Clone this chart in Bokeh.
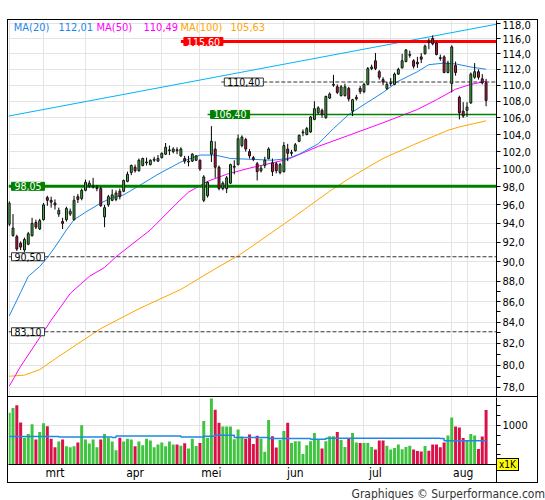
import numpy as np
from bokeh.plotting import figure
from bokeh.models import (Range1d, FixedTicker, CustomJSTickFormatter, Label, Grid, Div, Spacer)
from bokeh.layouts import column, row
from bokeh.embed import file_html
from bokeh.resources import INLINE

FONT = "DejaVu Sans Condensed"

# ---------------- data ----------------
opens = [93.9, 92.7, 92.6, 91.9, 91.2, 91.8, 92.7, 94.1, 93.4, 94.4,
         96.8, 96.5, 96.2, 95.0, 94.2, 94.4, 95.0, 94.4, 96.9, 96.7,
         97.6, 98.1, 98.0, 97.8, 97.8, 94.7, 96.0, 96.5, 96.6, 97.5,
         97.5, 98.6, 99.6, 100.2, 99.8, 100.4, 100.7, 100.5, 101.0, 100.9,
         101.3, 101.7, 102.1, 102.0, 102.2, 101.5, 101.2, 100.8, 100.9, 101.0,
         101.0, 96.5, 97.0, 101.7, 102.3, 100.2, 97.8, 97.8, 98.4, 100.2,
         100.5, 102.7, 103.4, 102.0, 101.3, 100.6, 99.8, 100.4, 101.2, 100.7,
         100.6, 99.6, 99.7, 102.3, 101.8, 102.1, 103.2, 104.2, 104.0, 104.3,
         105.8, 106.6, 106.9, 106.0, 108.4, 110.0, 109.8, 108.7, 108.7, 109.6,
         106.8, 108.3, 109.6, 109.2, 110.1, 112.1, 113.1, 111.7, 110.7, 109.6,
         110.2, 110.1, 111.4, 112.2, 113.0, 113.8, 113.1, 112.9, 113.6, 114.0,
         115.6, 116.0, 115.4, 113.5, 113.6, 111.6, 110.2, 112.5, 108.5, 106.8,
         106.9, 107.8, 111.0, 111.7, 110.8, 110.3]
highs = [96.4, 95.0, 92.8, 92.1, 92.5, 93.1, 94.6, 94.4, 94.5, 96.2,
         97.0, 96.9, 96.6, 95.7, 94.6, 95.8, 95.6, 97.0, 97.2, 97.8,
         98.8, 98.7, 99.0, 98.2, 98.0, 96.0, 97.1, 97.7, 97.6, 97.8,
         98.8, 99.7, 100.5, 100.5, 101.2, 101.3, 101.3, 101.1, 101.4, 101.6,
         101.9, 103.0, 102.7, 102.5, 102.5, 102.5, 101.5, 101.5, 101.8, 101.6,
         101.1, 99.3, 98.6, 105.0, 103.2, 100.4, 98.6, 99.2, 100.6, 101.0,
         104.0, 103.9, 103.6, 102.3, 101.5, 100.8, 100.4, 101.4, 102.5, 101.2,
         100.8, 100.7, 103.1, 102.9, 102.2, 103.0, 104.0, 104.6, 104.9, 106.2,
         108.0, 107.4, 107.1, 108.7, 109.1, 111.3, 110.1, 110.0, 110.2, 109.8,
         108.3, 108.8, 109.9, 110.3, 112.3, 112.6, 114.1, 111.9, 111.0, 110.4,
         110.9, 111.6, 112.2, 114.0, 114.6, 114.4, 113.3, 113.6, 114.1, 115.2,
         116.0, 116.4, 115.6, 113.9, 113.8, 113.1, 115.1, 113.0, 108.7, 107.9,
         107.9, 111.6, 112.8, 112.0, 111.4, 110.8]
lows = [93.7, 92.6, 91.1, 91.2, 91.0, 91.7, 92.6, 93.4, 93.3, 94.3,
        95.9, 95.7, 95.5, 94.7, 93.4, 94.2, 94.8, 94.3, 96.2, 96.5,
        97.5, 97.9, 97.8, 97.5, 95.8, 93.6, 95.8, 96.4, 96.4, 96.6,
        97.4, 98.5, 99.3, 99.6, 99.7, 100.3, 100.4, 100.4, 100.8, 100.8,
        101.2, 101.6, 101.6, 101.8, 101.7, 101.4, 100.6, 100.3, 100.8, 100.9,
        99.8, 96.3, 96.8, 100.8, 99.0, 97.6, 97.6, 97.3, 98.3, 99.4,
        100.4, 102.5, 102.0, 101.2, 100.9, 98.7, 99.6, 100.1, 101.1, 99.2,
        99.5, 99.4, 99.6, 100.9, 101.5, 102.0, 103.1, 103.8, 103.9, 104.2,
        105.7, 106.4, 106.0, 105.9, 108.3, 109.8, 108.9, 108.6, 108.6, 108.0,
        106.2, 108.1, 108.9, 109.0, 110.0, 111.9, 111.9, 110.7, 110.0, 109.4,
        109.9, 110.0, 111.3, 112.1, 112.9, 113.5, 112.1, 112.2, 112.8, 113.9,
        114.6, 115.1, 113.8, 113.1, 111.5, 111.5, 109.1, 111.2, 105.8, 106.0,
        106.1, 107.7, 110.8, 110.7, 110.1, 107.4]
closes = [96.2, 93.5, 91.3, 91.5, 92.3, 92.9, 94.0, 93.6, 94.3, 96.0,
          96.5, 96.3, 96.0, 95.4, 94.0, 95.6, 95.3, 96.5, 96.6, 97.6,
          98.5, 98.4, 98.1, 97.9, 95.9, 95.7, 96.9, 97.1, 97.3, 96.9,
          98.7, 99.4, 100.4, 99.8, 101.0, 101.2, 100.8, 101.0, 101.1, 101.2,
          101.8, 102.5, 102.2, 102.3, 102.1, 102.3, 100.9, 100.9, 101.7, 101.5,
          100.0, 99.1, 98.5, 103.2, 100.2, 97.8, 98.4, 99.0, 100.5, 100.3,
          103.5, 103.7, 102.3, 101.5, 101.1, 99.7, 100.1, 101.0, 102.3, 99.7,
          99.8, 100.5, 102.7, 101.8, 101.9, 102.8, 103.9, 104.3, 104.7, 106.1,
          107.1, 107.2, 106.4, 108.6, 108.9, 110.1, 109.1, 109.8, 109.8, 108.3,
          108.2, 108.5, 109.2, 110.1, 112.1, 112.3, 112.1, 111.0, 110.4, 110.1,
          110.3, 111.4, 112.0, 113.1, 114.5, 113.9, 112.4, 112.7, 113.3, 115.0,
          115.5, 115.3, 113.9, 113.4, 111.6, 112.8, 114.9, 111.6, 106.6, 106.2,
          107.3, 111.4, 111.7, 111.0, 110.3, 108.1]
volumes = [1317, 1439, 1512, 1073, 683, 780, 1024, 634, 829, 1049,
           976, 659, 439, 585, 634, 463, 439, 463, 561, 1000,
           634, 537, 634, 439, 634, 780, 683, 585, 366, 683,
           585, 659, 634, 463, 585, 488, 659, 610, 439, 512,
           561, 463, 585, 512, 512, 480, 540, 406, 656, 469,
           547, 1109, 680, 1680, 1398, 1062, 969, 969, 969, 641,
           891, 711, 656, 766, 523, 734, 656, 328, 1133, 719,
           430, 625, 852, 1062, 547, 594, 594, 266, 492, 594,
           805, 625, 406, 594, 719, 719, 828, 625, 445, 656,
           805, 563, 547, 547, 547, 445, 383, 609, 609, 477,
           383, 422, 508, 391, 445, 477, 383, 344, 333, 472,
           350, 512, 512, 439, 561, 740, 1195, 967, 943, 675,
           602, 780, 740, 398, 715, 1390]

ma20_idx = [0, 3, 5, 8, 10, 12, 15, 17, 20, 24, 27, 30, 34, 39, 45, 50, 54, 58,
            64, 69, 73, 76, 81, 85, 89, 94, 98, 102, 107, 110, 114, 117, 121, 125]
ma20_val = [84.6, 86.9, 88.5, 89.5, 90.4, 91.5, 93.3, 94.4, 95.2, 96.2, 96.8, 97.1,
            98.1, 99.4, 100.8, 101.6, 101.6, 101.2, 101.1, 101.0, 101.2, 101.7,
            102.9, 104.7, 106.4, 107.9, 109.1, 110.5, 111.7, 112.6, 112.8, 112.7,
            112.3, 112.01]
ma50_idx = [0, 3, 7, 11, 16, 21, 25, 28, 37, 44, 47, 52, 57, 63, 73, 81, 89, 98,
            107, 112, 117, 121, 125]
ma50_val = [78.1, 79.9, 82.0, 84.2, 86.8, 88.5, 89.4, 90.5, 93.3, 96.2, 97.4, 98.6,
            99.4, 100.1, 101.1, 102.6, 103.9, 105.4, 107.0, 108.2, 109.5, 110.1, 110.49]
ma100_idx = [0, 4, 8, 13, 24, 34, 45, 55, 60, 63, 74, 84, 89, 94, 98, 106, 115,
             118, 125]
ma100_val = [79.0, 79.1, 79.6, 80.8, 83.4, 85.3, 87.2, 89.5, 90.6, 91.4, 94.5, 97.5,
             98.9, 100.2, 101.2, 102.8, 104.5, 104.9, 105.63]
vma_idx = [0, 13, 27, 28, 45, 51, 54, 59, 68, 79, 83, 113, 114, 125]
vma_val = [715, 700, 690, 724, 700, 720, 745, 690, 660, 645, 670, 660, 602, 602]
trend_idx = [-0.2, 127.7]
trend_val = [106.2, 117.9]

level_price = [115.60, 110.40, 106.40, 98.05, 90.50, 83.10]
level_start = [45.0, 55.6, 52.0, -0.18, -0.18, -0.18]

month_names = ["mrt", "apr", "mei", "jun", "jul", "aug"]
month_idx = [9, 30, 50, 72, 93, 116]
price_ticks = list(range(78, 119, 2))
price_minor = [79, 81, 83, 85, 87]

# ---------------- layout constants ----------------
X0, X1 = -0.18, 127.73
Y_TOP, Y_BOT = 118.40, 77.20
V_TOP = 1707
PX_X = 488 / (X1 - X0)
K = 376 / np.log(Y_TOP / Y_BOT)


def xd(px):
    return X0 + (px - 8) / PX_X


def yd(py):
    return float(Y_TOP * np.exp(-(py - 20) / K))


GREEN = "#3CBB3C"
RED = "#D8104A"
VGREEN = "#3FC43F"
VRED = "#DC1048"
BLUE = "#1E88E8"
MAGENTA = "#FF00FF"
ORANGE = "#FFA500"
GRID = "#E4E4E4"
BORDER = "1px solid black"

n = len(closes)
idx = list(range(n))
up = [c >= o for o, c in zip(opens, closes)]
body_col = [GREEN if u else RED for u in up]
vol_col = [VGREEN if u else VRED for u in up]
tops = [max(o, c) for o, c in zip(opens, closes)]
bots = [min(o, c) for o, c in zip(opens, closes)]

# ---------------- price panel ----------------
p1 = figure(width=529, height=376, x_range=Range1d(X0, X1), y_range=Range1d(Y_BOT, Y_TOP),
            y_axis_type="log", y_axis_location="right", x_axis_location=None,
            toolbar_location=None, output_backend="svg",
            min_border_left=0, min_border_top=0, min_border_bottom=0, min_border_right=41)
p1.outline_line_color = None
p1.background_fill_color = "white"
p1.ygrid.ticker = FixedTicker(ticks=price_ticks)
p1.ygrid.grid_line_color = GRID
p1.add_layout(Grid(dimension=0, ticker=FixedTicker(ticks=month_idx), grid_line_color=GRID))

ax = p1.yaxis[0]
ax.ticker = FixedTicker(ticks=price_ticks, minor_ticks=price_minor)
ax.formatter = CustomJSTickFormatter(code="return tick.toFixed(1).replace('.', ',');")
ax.major_label_text_font = FONT
ax.major_label_text_font_size = "11px"
ax.major_label_text_color = "black"
ax.major_tick_out = 4
ax.major_tick_in = 0
ax.minor_tick_out = 4
ax.minor_tick_in = 0
ax.major_label_standoff = 2
ax.axis_line_color = "black"

# moving averages and trend line
p1.line(ma100_idx, ma100_val, line_color=ORANGE, line_width=1)
p1.line(ma50_idx, ma50_val, line_color=MAGENTA, line_width=1)
p1.line(ma20_idx, ma20_val, line_color=BLUE, line_width=1)
p1.line(trend_idx, trend_val, line_color="#00B4F5", line_width=1)

# horizontal levels
lv_color = ["#FF0000", "#333333", "#008000", "#008000", "#333333", "#333333"]
lv_width = [3, 1, 1.5, 3, 1, 1]
lv_dash = ["solid", "4 2", "solid", "solid", "4 2", "4 2"]
lb_fill = ["#FF0000", "white", "#008000", "#008000", "white", "white"]
lb_text = ["white", "black", "white", "white", "black", "black"]
lb_border = ["#FF0000", "#333333", "#008000", "#008000", "#333333", "#333333"]
for i, (pr, st) in enumerate(zip(level_price, level_start)):
    p1.segment(x0=[st], y0=[pr], x1=[X1], y1=[pr], line_color=lv_color[i],
               line_width=lv_width[i], line_dash=lv_dash[i])

# candles
p1.segment(x0=idx, y0=lows, x1=idx, y1=highs, line_color="black", line_width=1)
p1.vbar(x=idx, width=0.5, top=tops, bottom=bots, fill_color=body_col,
        line_color="#111111", line_width=1)

for i, (pr, st) in enumerate(zip(level_price, level_start)):
    txt = f"{pr:.2f}".replace(".", ",")
    p1.add_layout(Label(x=st, y=pr, x_offset=3, text=txt, text_align="left",
                        text_baseline="middle", text_font=FONT, text_font_size="10.5px",
                        text_color=lb_text[i], background_fill_color=lb_fill[i],
                        border_line_color=lb_border[i], border_line_width=1,
                        padding=(3, 0)))

# MA legend text
leg_txt = ["MA(20)", f"{ma20_val[-1]:.2f}".replace(".", ","),
           "MA(50)", f"{ma50_val[-1]:.2f}".replace(".", ","),
           "MA(100)", f"{ma100_val[-1]:.2f}".replace(".", ",")]
leg_col = [BLUE, BLUE, MAGENTA, MAGENTA, ORANGE, ORANGE]
leg_px = [13.3, 58, 96, 143, 180, 230]
for t, c, px in zip(leg_txt, leg_col, leg_px):
    p1.add_layout(Label(x=xd(px), y=yd(26.5), text=t, text_align="left",
                        text_baseline="middle", text_font=FONT, text_font_size="11px",
                        text_color=c))

# ---------------- volume panel ----------------
p2 = figure(width=529, height=85, x_range=p1.x_range, y_range=Range1d(0, V_TOP),
            y_axis_location="right", toolbar_location=None, output_backend="svg",
            min_border_left=0, min_border_top=0, min_border_bottom=15, min_border_right=41)
p2.outline_line_color = None
p2.xgrid.visible = False
p2.ygrid.ticker = FixedTicker(ticks=[1000])
p2.ygrid.grid_line_color = GRID
p2.add_layout(Grid(dimension=0, ticker=FixedTicker(ticks=month_idx), grid_line_color=GRID))

vax = p2.yaxis[0]
vax.ticker = FixedTicker(ticks=[1000], minor_ticks=[250, 500, 750, 1250, 1500])
vax.major_label_text_font = FONT
vax.major_label_text_font_size = "11px"
vax.major_label_text_color = "black"
vax.major_tick_out = 4
vax.major_tick_in = 0
vax.minor_tick_out = 4
vax.minor_tick_in = 0
vax.major_label_standoff = 2
vax.axis_line_color = "black"

xax = p2.xaxis[0]
label_pos = [m + 3 for m in month_idx]
xax.ticker = FixedTicker(ticks=label_pos)
xax.major_label_overrides = {lp: nm for lp, nm in zip(label_pos, month_names)}
xax.major_label_text_font = FONT
xax.major_label_text_font_size = "12px"
xax.major_label_text_color = "black"
xax.major_tick_out = 0
xax.major_tick_in = 0
xax.minor_tick_out = 0
xax.minor_tick_in = 0
xax.axis_line_color = "black"
xax.major_label_standoff = 1

p2.vbar(x=idx, width=0.78, top=volumes, bottom=0, fill_color=vol_col, line_color=None)
p2.step(vma_idx, vma_val, mode="after", line_color=BLUE, line_width=1.5)

box1 = column(p1, styles={"border": BORDER})
box2 = column(p2, styles={"border-left": BORDER, "border-right": BORDER,
                          "border-bottom": BORDER})

footer_html = (
    '<div style="width:533px;text-align:right;white-space:nowrap;">'
    'Graphiques © Surperformance.com</div>'
    '<span style="position:absolute;left:484px;top:-30px;background:#FFFF00;'
    'border:1px solid black;font-size:10px;line-height:11px;padding:0 2px;'
    'color:black;">x1K</span>'
    '<span style="position:absolute;left:484px;top:-20px;width:1px;height:15px;'
    'background:black;"></span>'
)
footer = Div(text=footer_html, width=533, height=14,
             styles={"font-family": FONT, "font-size": "12px", "line-height": "13px",
                     "color": "#333333", "position": "relative", "overflow": "visible"})
layout = column(Spacer(height=19), row(Spacer(width=7), column(box1, box2, footer)))

open("out.html", "w").write(file_html(layout, INLINE))
